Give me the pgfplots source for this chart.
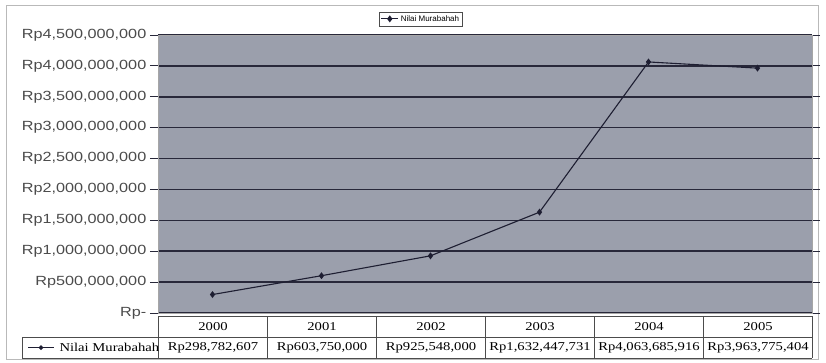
\documentclass[border=0pt]{standalone}
\usepackage{pgfplots}
\usepackage{pgfplotstable}
\pgfplotsset{compat=1.18}
\usepackage{fontspec}
\setmainfont{Liberation Serif}
\newfontfamily\arialx[FakeStretch=1.22]{Liberation Sans}
\newfontfamily\arialn{Liberation Sans}
\newfontfamily\tabfont[FakeStretch=1.22]{Liberation Serif}
\definecolor{plotbg}{RGB}{155,159,172}
\definecolor{gridc}{RGB}{40,40,58}
\definecolor{lblc}{RGB}{75,75,75}
\definecolor{linec}{RGB}{30,30,50}

\pgfplotstableread{
x year value
0 2000 298782607
1 2001 603750000
2 2002 925548000
3 2003 1632447731
4 2004 4063685916
5 2005 3963775404
}\datatable

\begin{document}
\begin{tikzpicture}[x=1pt,y=1pt]
\path[use as bounding box] (0,0) rectangle (826,362);
\coordinate (A) at (158,49);
\draw[gray!55, line width=1pt] (6,3) rectangle (818,356);
\begin{axis}[
  at={(A)}, anchor=south west,
  scale only axis, width=654pt, height=278pt,
  xmin=-0.5, xmax=5.5, ymin=0, ymax=4.5e9,
  scaled y ticks=false,
  xtick=\empty,
  ytick={0,500000000,1000000000,1500000000,2000000000,2500000000,3000000000,3500000000,4000000000,4500000000},
  yticklabels={{Rp-},{Rp500,000,000},{Rp1,000,000,000},{Rp1,500,000,000},{Rp2,000,000,000},{Rp2,500,000,000},{Rp3,000,000,000},{Rp3,500,000,000},{Rp4,000,000,000},{Rp4,500,000,000}},
  yticklabel style={font=\arialx\fontsize{13.3}{13.3}\selectfont, color=lblc, inner sep=3.5pt},
  tick align=outside, major tick length=8pt,
  tick style={gridc, line width=1pt},
  ymajorgrids, grid style={gridc, line width=1.5pt},
  axis background/.style={fill=plotbg},
  axis line style={gray!70, line width=1pt},
  clip=false,
  legend style={at={(0.402,1.058)}, anchor=center, draw=black!70, fill=white,
    font=\arialn\fontsize{8}{9}\selectfont, inner sep=1.5pt, row sep=0pt},
  legend cell align=left,
]
\addplot[color=linec, line width=1.1pt, mark=diamond*, mark size=2.6pt, mark options={fill=linec}]
  table[x=x, y=value]{\datatable};
\addlegendentry{Nilai Murabahah}
\end{axis}
% data table
\draw[gray!60!black, line width=0.8pt] (158,46) -- (812,46);
\draw[gray!60!black, line width=0.8pt] (22,25) -- (812,25);
\draw[gray!60!black, line width=0.8pt] (22,4) -- (812,4);
\draw[gray!60!black, line width=0.8pt] (22,25) -- (22,4);
\foreach \k in {0,...,6} {
  \draw[gray!60!black, line width=0.8pt] ({158+109*\k},46) -- ({158+109*\k},4);
}
\foreach \yr [count=\i from 0] in {2000,2001,2002,2003,2004,2005} {
  \node[font=\tabfont\fontsize{12}{12}\selectfont] at ({213+109*\i},35.5) {\yr};
}
\node[font=\tabfont\fontsize{12}{12}\selectfont] at (213,14.5) {Rp298,782,607};
\node[font=\tabfont\fontsize{12}{12}\selectfont] at (322,14.5) {Rp603,750,000};
\node[font=\tabfont\fontsize{12}{12}\selectfont] at (431,14.5) {Rp925,548,000};
\node[font=\tabfont\fontsize{12}{12}\selectfont] at (540,14.5) {Rp1,632,447,731};
\node[font=\tabfont\fontsize{12}{12}\selectfont] at (649,14.5) {Rp4,063,685,916};
\node[font=\tabfont\fontsize{12}{12}\selectfont] at (758,14.5) {Rp3,963,775,404};
\draw[linec, line width=1.1pt] (28,14.5) -- (54,14.5);
\fill[linec] (41,17) -- (43.5,14.5) -- (41,12) -- (38.5,14.5) -- cycle;
\node[font=\tabfont\fontsize{12}{12}\selectfont, anchor=west] at (56,14.5) {Nilai Murabahah};
\end{tikzpicture}
\end{document}
